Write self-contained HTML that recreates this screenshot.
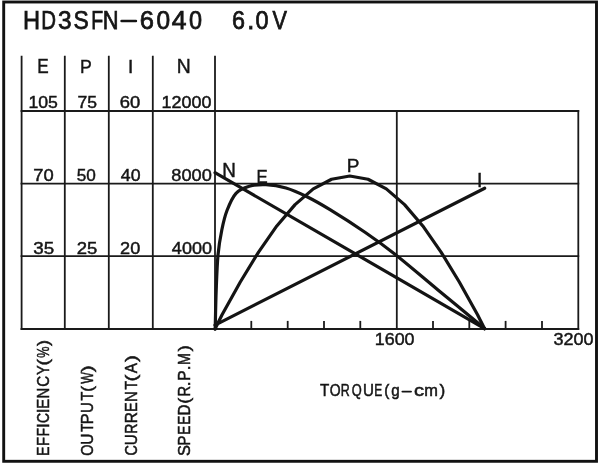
<!DOCTYPE html>
<html><head><meta charset="utf-8"><style>
html,body{margin:0;padding:0;background:#fff;width:600px;height:467px;overflow:hidden}
svg{display:block;will-change:transform}
</style></head><body>
<svg width="600" height="467" viewBox="0 0 600 467">
<rect x="0" y="0" width="600" height="467" fill="#fff"/>
<rect x="3.7" y="2.0" width="592.8" height="459.3" fill="none" stroke="#111" stroke-width="2.9"/>
<g stroke="#1a1a1a" stroke-width="1.8" fill="none" stroke-linecap="square">
<line x1="21.5" y1="111.0" x2="578.3" y2="111.0"/>
<line x1="21.5" y1="183.6" x2="578.3" y2="183.6"/>
<line x1="21.5" y1="256.2" x2="578.3" y2="256.2"/>
<line x1="21.5" y1="329.0" x2="578.3" y2="329.0"/>
<line x1="21.6" y1="56.6" x2="21.6" y2="329.0"/>
<line x1="64.8" y1="56.6" x2="64.8" y2="329.0"/>
<line x1="108.8" y1="56.6" x2="108.8" y2="329.0"/>
<line x1="152.8" y1="56.6" x2="152.8" y2="329.0"/>
<line x1="215.0" y1="56.6" x2="215.0" y2="329.0"/>
<line x1="396.8" y1="111.0" x2="396.8" y2="329.0"/>
<line x1="578.3" y1="111.0" x2="578.3" y2="329.0"/>
<line x1="251.3" y1="321.8" x2="251.3" y2="329.0"/>
<line x1="287.7" y1="321.8" x2="287.7" y2="329.0"/>
<line x1="324.0" y1="321.8" x2="324.0" y2="329.0"/>
<line x1="360.3" y1="321.8" x2="360.3" y2="329.0"/>
<line x1="433.0" y1="321.8" x2="433.0" y2="329.0"/>
<line x1="469.3" y1="321.8" x2="469.3" y2="329.0"/>
<line x1="505.6" y1="321.8" x2="505.6" y2="329.0"/>
<line x1="542.0" y1="321.8" x2="542.0" y2="329.0"/>
</g>
<g stroke="#141414" stroke-width="3.2" fill="none" stroke-linejoin="round" stroke-linecap="round">
<path d="M121.6,21 L135.9,21" stroke-width="2.6"/>
<path d="M402.4,391.6 L411,391.6" stroke-width="1.9"/>
<path d="M215,172.7 L484.6,328.55"/>
<path d="M215,325.1 L484.7,188.2"/>
<path d="M215.20,329.00 C215.37,322.50 215.73,302.33 216.20,290.00 C216.67,277.67 217.07,265.00 218.00,255.00 C218.93,245.00 220.30,237.42 221.80,230.00 C223.30,222.58 224.63,216.62 227.00,210.50 C229.37,204.38 232.28,197.33 236.00,193.30 C239.72,189.27 244.30,187.75 249.30,186.30 C254.30,184.85 259.88,184.32 266.00,184.60 C272.12,184.88 279.33,186.05 286.00,188.00 C292.67,189.95 298.67,192.68 306.00,196.30 C313.33,199.92 320.17,203.70 330.00,209.70 C339.83,215.70 354.17,224.87 365.00,232.30 C375.83,239.73 382.83,244.68 395.00,254.30 C407.17,263.92 423.07,277.63 438.00,290.00 C452.93,302.37 476.83,322.08 484.60,328.50"/>
<path d="M215.00,329.00 L222.05,314.72 L240.30,282.04 L258.55,252.06 L276.80,225.95 L295.05,204.65 L313.30,188.91 L331.55,179.25 L349.80,176.00 L368.05,179.25 L386.30,188.91 L404.55,204.65 L422.80,225.95 L441.05,252.06 L459.30,282.04 L477.55,314.72 L484.60,328.80"/>
</g>
<g fill="#151515" stroke="#151515" stroke-width="0.45" font-family="Liberation Sans, sans-serif">
<text x="22.982" y="28.625" font-size="25.357" textLength="17.087" lengthAdjust="spacingAndGlyphs" stroke-width="0.75">H</text>
<text x="41.242" y="28.625" font-size="25.357" textLength="14.745" lengthAdjust="spacingAndGlyphs" stroke-width="0.75">D</text>
<text x="57.896" y="28.625" font-size="25.357" textLength="13.617" lengthAdjust="spacingAndGlyphs" stroke-width="0.75">3</text>
<text x="73.461" y="28.625" font-size="25.357" textLength="15.242" lengthAdjust="spacingAndGlyphs" stroke-width="0.75">S</text>
<text x="91.315" y="28.625" font-size="25.357" textLength="11.913" lengthAdjust="spacingAndGlyphs" stroke-width="0.75">F</text>
<text x="102.625" y="28.625" font-size="25.357" textLength="15.798" lengthAdjust="spacingAndGlyphs" stroke-width="0.75">N</text>
<text x="139.842" y="28.625" font-size="25.357" textLength="14.209" lengthAdjust="spacingAndGlyphs" stroke-width="0.75">6</text>
<text x="156.396" y="28.625" font-size="25.357" textLength="13.617" lengthAdjust="spacingAndGlyphs" stroke-width="0.75">0</text>
<text x="171.845" y="28.625" font-size="25.357" textLength="14.741" lengthAdjust="spacingAndGlyphs" stroke-width="0.75">4</text>
<text x="188.938" y="28.625" font-size="25.357" textLength="13.037" lengthAdjust="spacingAndGlyphs" stroke-width="0.75">0</text>
<text x="231.973" y="28.625" font-size="25.357" textLength="12.999" lengthAdjust="spacingAndGlyphs" stroke-width="0.75">6</text>
<text x="247.2" y="28.625" font-size="25.357" textLength="7.052" lengthAdjust="spacingAndGlyphs" stroke-width="0.75">.</text>
<text x="255.438" y="28.625" font-size="25.357" textLength="13.037" lengthAdjust="spacingAndGlyphs" stroke-width="0.75">0</text>
<text x="272.375" y="28.625" font-size="25.357" textLength="14.405" lengthAdjust="spacingAndGlyphs" stroke-width="0.75">V</text>
<text x="37.155" y="73.075" font-size="19.786" textLength="11.429" lengthAdjust="spacingAndGlyphs">E</text>
<text x="80.11" y="72.875" font-size="19.071" textLength="11.799" lengthAdjust="spacingAndGlyphs">P</text>
<text x="128.0" y="72.775" font-size="18.929" textLength="5.265" lengthAdjust="spacingAndGlyphs">I</text>
<text x="176.675" y="72.875" font-size="19.643" textLength="13.992" lengthAdjust="spacingAndGlyphs">N</text>
<text x="28.515" y="108.175" font-size="16.071" textLength="29.42" lengthAdjust="spacingAndGlyphs">105</text>
<text x="77.472" y="108.175" font-size="16.071" textLength="19.524" lengthAdjust="spacingAndGlyphs">75</text>
<text x="119.722" y="108.175" font-size="16.071" textLength="20.45" lengthAdjust="spacingAndGlyphs">60</text>
<text x="161.589" y="108.175" font-size="16.071" textLength="49.921" lengthAdjust="spacingAndGlyphs">12000</text>
<text x="33.322" y="181.075" font-size="16.357" textLength="20.45" lengthAdjust="spacingAndGlyphs">70</text>
<text x="76.838" y="181.075" font-size="16.357" textLength="19.094" lengthAdjust="spacingAndGlyphs">50</text>
<text x="120.871" y="181.075" font-size="16.357" textLength="19.679" lengthAdjust="spacingAndGlyphs">40</text>
<text x="171.297" y="181.075" font-size="16.357" textLength="40.491" lengthAdjust="spacingAndGlyphs">8000</text>
<text x="33.274" y="254.075" font-size="16.357" textLength="20.887" lengthAdjust="spacingAndGlyphs">35</text>
<text x="76.786" y="254.075" font-size="16.357" textLength="20.559" lengthAdjust="spacingAndGlyphs">25</text>
<text x="120.1" y="254.075" font-size="16.357" textLength="20.164" lengthAdjust="spacingAndGlyphs">20</text>
<text x="171.864" y="254.075" font-size="16.357" textLength="40.116" lengthAdjust="spacingAndGlyphs">4000</text>
<text x="374.795" y="344.775" font-size="16.5" textLength="39.78" lengthAdjust="spacingAndGlyphs">1600</text>
<text x="553.504" y="344.775" font-size="16.5" textLength="40.076" lengthAdjust="spacingAndGlyphs">3200</text>
<text x="319.957" y="396.24" font-size="16.4" textLength="9.251" lengthAdjust="spacingAndGlyphs" stroke-width="0.52">T</text>
<text x="329.702" y="396.24" font-size="16.4" textLength="10.848" lengthAdjust="spacingAndGlyphs" stroke-width="0.52">O</text>
<text x="340.763" y="396.24" font-size="16.4" textLength="9.003" lengthAdjust="spacingAndGlyphs" stroke-width="0.52">R</text>
<text x="351.747" y="396.24" font-size="16.4" textLength="9.982" lengthAdjust="spacingAndGlyphs" stroke-width="0.52">Q</text>
<text x="363.049" y="396.24" font-size="16.4" textLength="10.936" lengthAdjust="spacingAndGlyphs" stroke-width="0.52">U</text>
<text x="374.3" y="396.24" font-size="16.4" textLength="8.006" lengthAdjust="spacingAndGlyphs" stroke-width="0.52">E</text>
<text x="384.342" y="396.24" font-size="16.4" textLength="5.099" lengthAdjust="spacingAndGlyphs" stroke-width="0.52">(</text>
<text x="391.153" y="396.24" font-size="16.4" textLength="8.44" lengthAdjust="spacingAndGlyphs" stroke-width="0.52">g</text>
<text x="413.952" y="396.24" font-size="16.4" textLength="10.095" lengthAdjust="spacingAndGlyphs" stroke-width="0.52">c</text>
<text x="424.276" y="396.24" font-size="16.4" textLength="13.663" lengthAdjust="spacingAndGlyphs" stroke-width="0.52">m</text>
<text x="439.415" y="396.24" font-size="16.4" textLength="5.74" lengthAdjust="spacingAndGlyphs" stroke-width="0.52">)</text>
<text x="222.218" y="176.775" font-size="19.357" textLength="13.605" lengthAdjust="spacingAndGlyphs">N</text>
<text x="256.384" y="182.775" font-size="18.929" textLength="11.182" lengthAdjust="spacingAndGlyphs">E</text>
<text x="346.706" y="172.475" font-size="18.929" textLength="12.664" lengthAdjust="spacingAndGlyphs">P</text>
<text x="476.99" y="187.075" font-size="19.357" textLength="5.384" lengthAdjust="spacingAndGlyphs">I</text>
<text x="0" y="0" font-size="16.971" textLength="9.489" lengthAdjust="spacingAndGlyphs" stroke-width="0.52" transform="translate(49.34,455.978) rotate(-90)">E</text>
<text x="0" y="0" font-size="16.971" textLength="9.017" lengthAdjust="spacingAndGlyphs" stroke-width="0.52" transform="translate(49.34,446.121) rotate(-90)">F</text>
<text x="0" y="0" font-size="16.971" textLength="8.529" lengthAdjust="spacingAndGlyphs" stroke-width="0.52" transform="translate(49.34,436.457) rotate(-90)">F</text>
<text x="0" y="0" font-size="16.971" textLength="4.72" lengthAdjust="spacingAndGlyphs" stroke-width="0.52" transform="translate(49.34,427.976) rotate(-90)">I</text>
<text x="0" y="0" font-size="16.971" textLength="10.111" lengthAdjust="spacingAndGlyphs" stroke-width="0.52" transform="translate(49.34,422.98) rotate(-90)">C</text>
<text x="0" y="0" font-size="16.971" textLength="4.72" lengthAdjust="spacingAndGlyphs" stroke-width="0.52" transform="translate(49.34,413.126) rotate(-90)">I</text>
<text x="0" y="0" font-size="16.971" textLength="9.983" lengthAdjust="spacingAndGlyphs" stroke-width="0.52" transform="translate(49.34,408.637) rotate(-90)">E</text>
<text x="0" y="0" font-size="16.971" textLength="10.807" lengthAdjust="spacingAndGlyphs" stroke-width="0.52" transform="translate(49.34,398.437) rotate(-90)">N</text>
<text x="0" y="0" font-size="16.971" textLength="10.926" lengthAdjust="spacingAndGlyphs" stroke-width="0.52" transform="translate(49.34,386.848) rotate(-90)">C</text>
<text x="0" y="0" font-size="16.971" textLength="9.663" lengthAdjust="spacingAndGlyphs" stroke-width="0.52" transform="translate(49.34,374.93) rotate(-90)">Y</text>
<text x="0" y="0" font-size="16.971" textLength="6.381" lengthAdjust="spacingAndGlyphs" stroke-width="0.52" transform="translate(49.34,365.589) rotate(-90)">(</text>
<text x="0" y="0" font-size="16.971" textLength="11.258" lengthAdjust="spacingAndGlyphs" stroke-width="0.52" transform="translate(49.34,357.746) rotate(-90)">%</text>
<text x="0" y="0" font-size="16.971" textLength="5.996" lengthAdjust="spacingAndGlyphs" stroke-width="0.52" transform="translate(49.34,346.0) rotate(-90)">)</text>
<text x="0" y="0" font-size="17.257" textLength="11.191" lengthAdjust="spacingAndGlyphs" stroke-width="0.52" transform="translate(92.94,455.815) rotate(-90)">O</text>
<text x="0" y="0" font-size="17.257" textLength="11.194" lengthAdjust="spacingAndGlyphs" stroke-width="0.52" transform="translate(92.94,444.78) rotate(-90)">U</text>
<text x="0" y="0" font-size="17.257" textLength="8.16" lengthAdjust="spacingAndGlyphs" stroke-width="0.52" transform="translate(92.94,431.807) rotate(-90)">T</text>
<text x="0" y="0" font-size="17.257" textLength="10.848" lengthAdjust="spacingAndGlyphs" stroke-width="0.52" transform="translate(92.94,424.141) rotate(-90)">P</text>
<text x="0" y="0" font-size="17.257" textLength="10.807" lengthAdjust="spacingAndGlyphs" stroke-width="0.52" transform="translate(92.94,413.037) rotate(-90)">U</text>
<text x="0" y="0" font-size="17.257" textLength="8.815" lengthAdjust="spacingAndGlyphs" stroke-width="0.52" transform="translate(92.94,400.429) rotate(-90)">T</text>
<text x="0" y="0" font-size="17.257" textLength="5.74" lengthAdjust="spacingAndGlyphs" stroke-width="0.52" transform="translate(92.94,391.674) rotate(-90)">(</text>
<text x="0" y="0" font-size="17.257" textLength="11.63" lengthAdjust="spacingAndGlyphs" stroke-width="0.52" transform="translate(92.94,383.84) rotate(-90)">W</text>
<text x="0" y="0" font-size="17.257" textLength="6.893" lengthAdjust="spacingAndGlyphs" stroke-width="0.52" transform="translate(92.94,372.154) rotate(-90)">)</text>
<text x="0" y="0" font-size="17.257" textLength="10.344" lengthAdjust="spacingAndGlyphs" stroke-width="0.52" transform="translate(136.74,455.599) rotate(-90)">C</text>
<text x="0" y="0" font-size="17.257" textLength="10.936" lengthAdjust="spacingAndGlyphs" stroke-width="0.52" transform="translate(136.74,445.151) rotate(-90)">U</text>
<text x="0" y="0" font-size="17.257" textLength="10.207" lengthAdjust="spacingAndGlyphs" stroke-width="0.52" transform="translate(136.74,433.871) rotate(-90)">R</text>
<text x="0" y="0" font-size="17.257" textLength="11.17" lengthAdjust="spacingAndGlyphs" stroke-width="0.52" transform="translate(136.74,423.177) rotate(-90)">R</text>
<text x="0" y="0" font-size="17.257" textLength="9.612" lengthAdjust="spacingAndGlyphs" stroke-width="0.52" transform="translate(136.74,411.993) rotate(-90)">E</text>
<text x="0" y="0" font-size="17.257" textLength="10.807" lengthAdjust="spacingAndGlyphs" stroke-width="0.52" transform="translate(136.74,402.037) rotate(-90)">N</text>
<text x="0" y="0" font-size="17.257" textLength="8.706" lengthAdjust="spacingAndGlyphs" stroke-width="0.52" transform="translate(136.74,389.525) rotate(-90)">T</text>
<text x="0" y="0" font-size="17.257" textLength="6.893" lengthAdjust="spacingAndGlyphs" stroke-width="0.52" transform="translate(136.74,381.382) rotate(-90)">(</text>
<text x="0" y="0" font-size="17.257" textLength="10.19" lengthAdjust="spacingAndGlyphs" stroke-width="0.52" transform="translate(136.74,373.24) rotate(-90)">A</text>
<text x="0" y="0" font-size="17.257" textLength="6.893" lengthAdjust="spacingAndGlyphs" stroke-width="0.52" transform="translate(136.74,362.054) rotate(-90)">)</text>
<text x="0" y="0" font-size="17.4" textLength="10.905" lengthAdjust="spacingAndGlyphs" stroke-width="0.52" transform="translate(189.64,455.894) rotate(-90)">S</text>
<text x="0" y="0" font-size="17.4" textLength="9.86" lengthAdjust="spacingAndGlyphs" stroke-width="0.52" transform="translate(189.64,445.422) rotate(-90)">P</text>
<text x="0" y="0" font-size="17.4" textLength="9.118" lengthAdjust="spacingAndGlyphs" stroke-width="0.52" transform="translate(189.64,434.733) rotate(-90)">E</text>
<text x="0" y="0" font-size="17.4" textLength="9.118" lengthAdjust="spacingAndGlyphs" stroke-width="0.52" transform="translate(189.64,424.633) rotate(-90)">E</text>
<text x="0" y="0" font-size="17.4" textLength="10.929" lengthAdjust="spacingAndGlyphs" stroke-width="0.52" transform="translate(189.64,415.451) rotate(-90)">D</text>
<text x="0" y="0" font-size="17.4" textLength="5.996" lengthAdjust="spacingAndGlyphs" stroke-width="0.52" transform="translate(189.64,403.72) rotate(-90)">(</text>
<text x="0" y="0" font-size="17.4" textLength="10.568" lengthAdjust="spacingAndGlyphs" stroke-width="0.52" transform="translate(189.64,396.411) rotate(-90)">R</text>
<text x="0" y="0" font-size="17.4" textLength="4.839" lengthAdjust="spacingAndGlyphs" stroke-width="0.52" transform="translate(189.64,386.286) rotate(-90)">.</text>
<text x="0" y="0" font-size="17.4" textLength="10.354" lengthAdjust="spacingAndGlyphs" stroke-width="0.52" transform="translate(189.64,380.681) rotate(-90)">P</text>
<text x="0" y="0" font-size="17.4" textLength="4.839" lengthAdjust="spacingAndGlyphs" stroke-width="0.52" transform="translate(189.64,370.186) rotate(-90)">.</text>
<text x="0" y="0" font-size="17.4" textLength="11.982" lengthAdjust="spacingAndGlyphs" stroke-width="0.52" transform="translate(189.64,364.891) rotate(-90)">M</text>
<text x="0" y="0" font-size="17.4" textLength="6.381" lengthAdjust="spacingAndGlyphs" stroke-width="0.52" transform="translate(189.64,351.423) rotate(-90)">)</text>
</g>
</svg>
</body></html>
